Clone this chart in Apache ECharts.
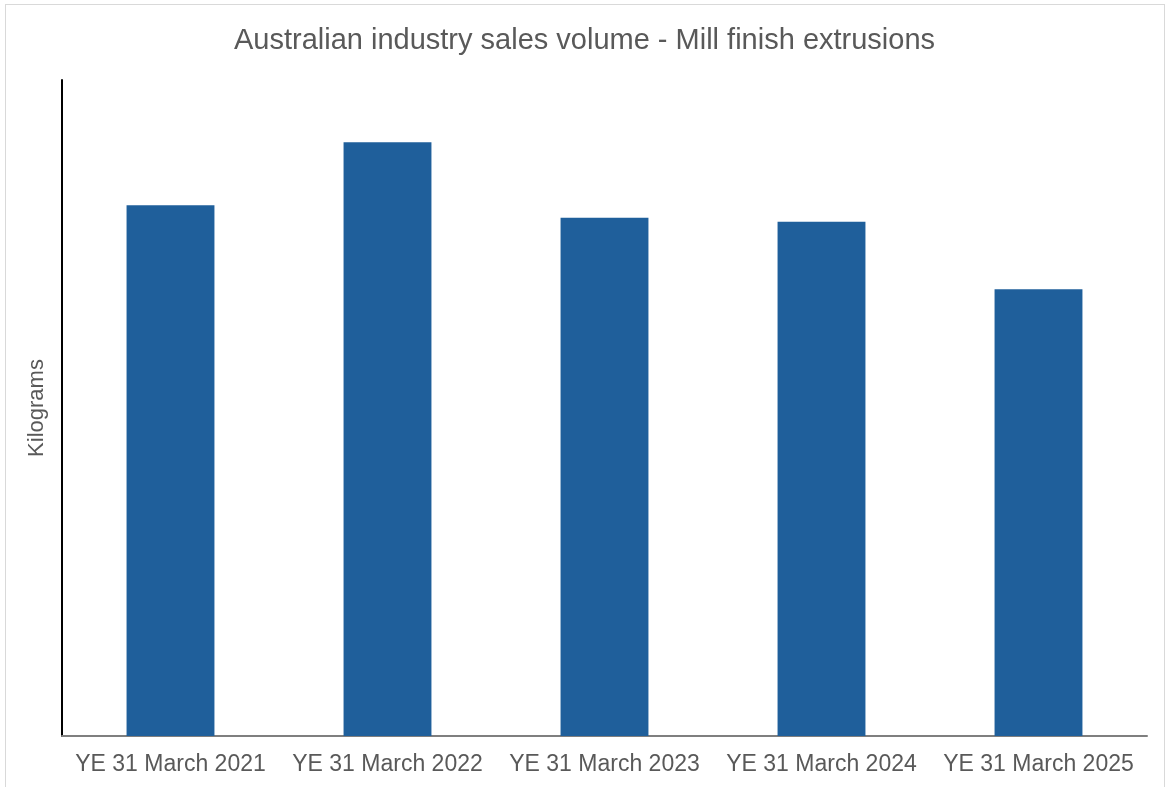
<!DOCTYPE html>
<html>
<head>
<meta charset="utf-8">
<script src="https://cdn.jsdelivr.net/npm/echarts@6/dist/echarts.min.js"></script>
<style>
  html, body { margin: 0; padding: 0; background: #fff; }
  #frame { position: absolute; left: 5px; top: 4px; width: 1160px; height: 800px; border: 1px solid #d9d9d9; box-sizing: border-box; }
  #chart { position: absolute; left: 0; top: 0; width: 1169px; height: 787px; }
</style>
</head>
<body>
<div id="frame"></div>
<div id="chart"></div>
<script>
// categories and values (relative, axis has no labels)
var categories = ['YE 31 March 2021', 'YE 31 March 2022', 'YE 31 March 2023', 'YE 31 March 2024', 'YE 31 March 2025']
var salesVolume = [80.9, 90.5, 79.0, 78.4, 68.1]

var myChart = echarts.init(document.getElementById('chart'))

var option = {
  animation: false,
  title: {
    text: 'Australian industry sales volume - Mill finish extrusions',
    left: 'center',
    top: 21,
    textStyle: { fontFamily: 'Liberation Sans, Arial', fontSize: 29, fontWeight: 'normal', color: '#595959' }
  },
  grid: { left: 62, right: 22, top: 80, bottom: 51 },
  xAxis: {
    type: 'category',
    data: categories,
    axisTick: { show: false },
    axisLine: { lineStyle: { color: '#7f7f7f', width: 2 } },
    axisLabel: { interval: 0, hideOverlap: false, fontFamily: 'Liberation Sans, Arial', fontSize: 23, color: '#595959', margin: 17 }
  },
  yAxis: {
    type: 'value',
    min: 0,
    max: 100,
    name: 'Kilograms',
    nameLocation: 'middle',
    nameGap: 14,
    nameTextStyle: { fontFamily: 'Liberation Sans, Arial', fontSize: 22, color: '#595959' },
    axisLine: { show: true, lineStyle: { color: '#000', width: 2 } },
    axisTick: { show: false },
    axisLabel: { show: false },
    splitLine: { show: false }
  },
  series: [{
    type: 'bar',
    data: salesVolume,
    barWidth: '40.5%',
    itemStyle: { color: '#1f5f9b' }
  }]
}

myChart.setOption(option)
</script>
</body>
</html>
